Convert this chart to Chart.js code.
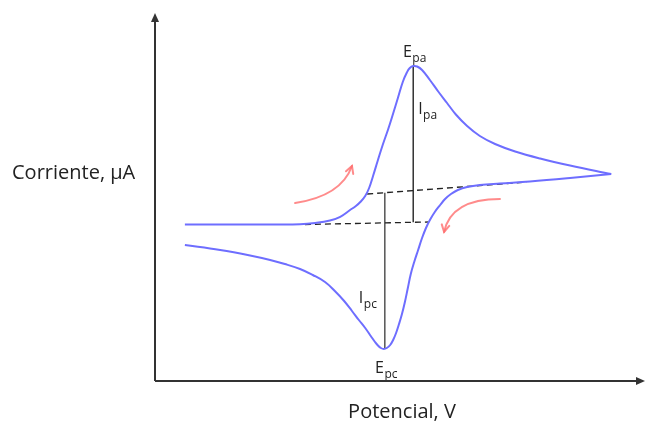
<!DOCTYPE html>
<html>
<head>
<meta charset="utf-8">
<script src="https://cdn.jsdelivr.net/npm/chart.js@4"></script>
<style>
  html, body { margin: 0; padding: 0; background: #fff; }
  #wrap { width: 646px; height: 425px; }
</style>
</head>
<body>
<div id="wrap"><canvas id="cv"></canvas></div>
<script>
// Potencial (V) y corriente (µA) del voltamograma
const potAnodico = [0.061, 0.153, 0.235, 0.296, 0.327, 0.357, 0.378, 0.398, 0.410, 0.420, 0.429, 0.437, 0.445, 0.455, 0.465, 0.476, 0.486, 0.496, 0.506, 0.514, 0.520, 0.527, 0.535, 0.545, 0.561, 0.578, 0.596, 0.614, 0.637, 0.663, 0.694, 0.735, 0.786, 0.847, 0.931];
const corAnodica = [0.05, 0.05, 0.05, 0.07, 0.2, 0.45, 0.82, 1.5, 1.9, 2.35, 2.9, 3.7, 4.9, 6.5, 8.05, 9.6, 11.15, 12.75, 14.35, 15.25, 15.7, 15.9, 15.85, 15.5, 14.5, 13.35, 12.2, 11.05, 9.9, 8.9, 8.1, 7.35, 6.65, 5.95, 5.1];

const potCatodico = [0.931, 0.847, 0.765, 0.704, 0.663, 0.637, 0.618, 0.604, 0.592, 0.582, 0.571, 0.561, 0.553, 0.545, 0.537, 0.529, 0.522, 0.516, 0.510, 0.504, 0.498, 0.492, 0.486, 0.480, 0.473, 0.467, 0.461, 0.455, 0.449, 0.441, 0.429, 0.416, 0.402, 0.386, 0.367, 0.347, 0.322, 0.296, 0.265, 0.235, 0.194, 0.133, 0.061];
const corCatodica = [5.1, 4.7, 4.35, 4.15, 4.0, 3.8, 3.5, 3.1, 2.6, 2.0, 1.3, 0.5, -0.3, -1.3, -2.5, -3.7, -4.9, -6.3, -7.7, -8.9, -9.9, -10.8, -11.5, -12.0, -12.3, -12.4, -12.3, -12.05, -11.7, -11.15, -10.3, -9.5, -8.6, -7.6, -6.6, -5.7, -5.0, -4.4, -3.9, -3.5, -3.05, -2.5, -2.0];

// lineas base (extrapoladas) y alturas de pico
const baseAnodica = [[0.433, 3.1], [0.759, 4.3]];
const baseCatodica = [[0.306, 0.05], [0.557, 0.3]];
const alturaIpa = [[0.527, 15.9], [0.527, 0.27]];
const alturaIpc = [[0.469, 3.23], [0.469, -12.4]];

// etiquetas: texto, subindice, potencial, corriente
const etiquetas = [
  ['E', 'pa', 0.506, 16.8],
  ['I', 'pa', 0.537, 11.1],
  ['I', 'pc', 0.416, -7.8],
  ['E', 'pc', 0.449, -14.8]
];

// flechas de sentido de barrido: inicio, control, fin
const flechas = [
  [[0.286, 2.2], [0.380, 2.9], [0.402, 5.9]],
  [[0.704, 2.6], [0.604, 2.6], [0.590, -0.7]]
];

function toXY(xs, ys) {
  return xs.map((x, i) => ({ x: x, y: ys[i] }));
}
function pares(arr) {
  return arr.map(p => ({ x: p[0], y: p[1] }));
}

const azul = 'rgb(110,110,255)';

const extras = {
  id: 'extras',
  afterDatasetsDraw(chart) {
    const ctx = chart.ctx;
    const sx = chart.scales.x, sy = chart.scales.y;
    const a = chart.chartArea;

    // flechas rojas
    ctx.save();
    ctx.strokeStyle = 'rgba(255,110,110,0.8)';
    ctx.lineWidth = 2;
    ctx.lineCap = 'round';
    flechas.forEach(f => {
      const p = f.map(q => [sx.getPixelForValue(q[0]), sy.getPixelForValue(q[1])]);
      ctx.beginPath();
      ctx.moveTo(p[0][0], p[0][1]);
      ctx.quadraticCurveTo(p[1][0], p[1][1], p[2][0], p[2][1]);
      ctx.stroke();
      const ang = Math.atan2(p[2][1] - p[1][1], p[2][0] - p[1][0]);
      const L = 8;
      ctx.beginPath();
      ctx.moveTo(p[2][0] - L * Math.cos(ang - 0.5), p[2][1] - L * Math.sin(ang - 0.5));
      ctx.lineTo(p[2][0], p[2][1]);
      ctx.lineTo(p[2][0] - L * Math.cos(ang + 0.5), p[2][1] - L * Math.sin(ang + 0.5));
      ctx.stroke();
    });
    ctx.restore();

    // etiquetas con subindice
    ctx.save();
    ctx.fillStyle = '#222';
    ctx.textBaseline = 'alphabetic';
    etiquetas.forEach(e => {
      const px = sx.getPixelForValue(e[2]), py = sy.getPixelForValue(e[3]);
      ctx.font = '16px "Open Sans"';
      ctx.fillText(e[0], px, py);
      const w = ctx.measureText(e[0]).width;
      ctx.font = '12px "Open Sans"';
      ctx.fillText(e[1], px + w + 0.5, py + 5);
    });
    ctx.restore();

    // ejes con flecha
    ctx.save();
    ctx.strokeStyle = '#333';
    ctx.fillStyle = '#333';
    ctx.lineWidth = 2;
    ctx.beginPath();
    ctx.moveTo(a.left, a.bottom);
    ctx.lineTo(a.left, a.top + 6);
    ctx.moveTo(a.left, a.bottom);
    ctx.lineTo(a.right - 6, a.bottom);
    ctx.stroke();
    ctx.beginPath();
    ctx.moveTo(a.left, a.top);
    ctx.lineTo(a.left - 4, a.top + 9);
    ctx.lineTo(a.left + 4, a.top + 9);
    ctx.closePath();
    ctx.fill();
    ctx.beginPath();
    ctx.moveTo(a.right, a.bottom);
    ctx.lineTo(a.right - 9, a.bottom - 4);
    ctx.lineTo(a.right - 9, a.bottom + 4);
    ctx.closePath();
    ctx.fill();

    // titulos de ejes
    ctx.fillStyle = '#222';
    ctx.font = '20px "Open Sans"';
    ctx.textBaseline = 'middle';
    ctx.textAlign = 'left';
    ctx.fillText('Corriente, µA', 12, 173);
    ctx.textAlign = 'center';
    ctx.fillText('Potencial, V', 402, 412);
    ctx.restore();
  }
};

new Chart(document.getElementById('cv'), {
  type: 'line',
  data: {
    datasets: [
      { data: toXY(potAnodico, corAnodica), borderColor: azul, borderWidth: 2, tension: 0.4 },
      { data: toXY(potCatodico, corCatodica), borderColor: azul, borderWidth: 2, tension: 0.4 },
      { data: pares(baseAnodica), borderColor: '#222', borderWidth: 1.3, borderDash: [6, 4] },
      { data: pares(baseCatodica), borderColor: '#222', borderWidth: 1.3, borderDash: [6, 4] },
      { data: pares(alturaIpa), borderColor: '#333', borderWidth: 1.5 },
      { data: pares(alturaIpc), borderColor: '#555', borderWidth: 1.5 }
    ]
  },
  options: {
    responsive: true,
    maintainAspectRatio: false,
    animation: false,
    layout: { padding: { left: 155, right: 1, top: 13, bottom: 44 } },
    elements: { point: { radius: 0 } },
    plugins: { legend: { display: false }, tooltip: { enabled: false } },
    scales: {
      x: { type: 'linear', min: 0, max: 1, display: false },
      y: { type: 'linear', min: -15.6, max: 21.2, display: false }
    }
  },
  plugins: [extras]
});
</script>
</body>
</html>
